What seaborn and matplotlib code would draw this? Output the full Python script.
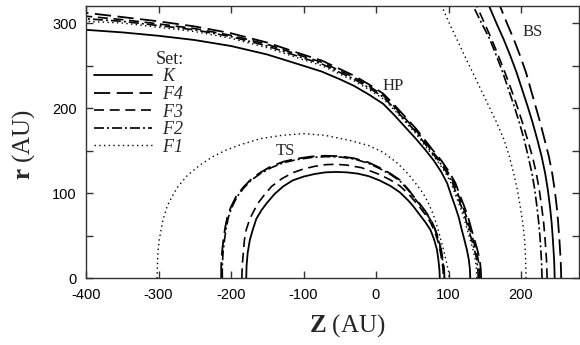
import matplotlib
matplotlib.use("Agg")
import matplotlib.pyplot as plt
import seaborn as sns
from matplotlib.lines import Line2D
from matplotlib.ticker import MultipleLocator

# ---------------- data ----------------
sets = ["K", "F4", "F3", "F2", "F1"]

# Termination shock (TS)
ts_K_z = [-179, -178.5, -177, -174, -170, -165, -158, -151, -140, -128, -115, -100,
          -85, -70, -55, -40, -25, -10, 5, 20, 33, 45, 52, 60, 68, 75, 80, 84, 86,
          87.5, 88]
ts_K_r = [0, 15, 30, 45, 57, 70, 80, 88, 99, 108, 115, 119.5, 122.5, 124.5, 125,
          124.5, 123, 120, 115, 108.5, 101, 91, 84, 75, 66, 57, 46, 34, 22, 10, 0]

ts_F3_z = [-185, -184.5, -183, -181.5, -179, -174, -168, -163, -154, -144, -130,
           -115, -100, -85, -70, -55, -40, -20, 5, 20, 33, 45, 52, 60, 68, 75, 81,
           86, 89, 91, 92.5, 93]
ts_F3_r = [0, 15, 30, 45, 57, 70, 80, 88, 98, 108, 117, 124, 128.5, 131.5, 133.5,
           134, 133, 130, 122, 115.5, 108.5, 99, 92, 84, 75, 66, 55, 42, 30, 20, 10, 0]

ts_F4_z = [-213.5, -213.5, -212.5, -210.5, -208, -205, -200, -193, -184, -174, -161,
           -146, -128, -110, -90, -70, -50, -30, -10, 5, 20, 33, 45, 52, 60, 68, 75,
           81, 86, 90, 92.5, 94, 94.5]
ts_F4_r = [0, 15, 30, 45, 60, 72, 84, 96, 106, 115, 123.5, 131, 137, 140.5, 143,
           144, 143.5, 141, 136, 130, 123, 115.5, 104, 96, 88, 79, 70, 59, 47, 33,
           20, 10, 0]

ts_F2_z = [-212, -212, -211, -209, -206.5, -203.5, -198.5, -191.5, -182.5, -172.5,
           -159.5, -144.5, -127, -109, -89, -69, -49, -29, -10, 5, 20, 33, 45, 52,
           60, 68, 75, 81, 86, 89.5, 92, 93.5, 94]
ts_F2_r = [0, 15, 30, 45, 60, 72, 84, 96, 106, 115, 123, 130, 136, 139.5, 142, 143,
           142.5, 140, 135, 129, 122, 114.5, 103, 95, 87, 78, 69, 58, 46, 32, 20, 10, 0]

ts_F1_z = [-302, -301.5, -301, -299, -294, -288, -280, -273, -260, -243, -225, -206,
           -185, -160, -130, -100, -70, -36, -10, 10, 30, 45, 56, 65, 72, 79, 84, 88,
           92, 95, 98, 100, 101]
ts_F1_r = [0, 15, 29, 45, 68, 85, 98, 108, 121, 133, 143, 151, 157.5, 164, 168, 170,
           168, 162, 156, 148, 135, 122, 110, 100, 89, 75, 62, 50, 37, 27, 16, 8, 0]

# Heliopause (HP)
hp_K_z = [130, 129.5, 128, 125.5, 122, 118, 114, 109, 104, 98, 90, 80, 68, 55, 40,
          25, 10, -10, -30, -50, -75, -101, -150, -200, -250, -300, -350, -400]
hp_K_r = [0, 11, 22, 33, 45, 58, 72, 85, 97, 112, 125, 138, 151, 164, 178, 192, 205,
          216, 226, 234, 243, 250, 263, 273, 280, 285, 289, 292]

hp_F4_z = [145, 144.5, 143, 140, 136, 131.5, 127, 121.5, 116, 109.5, 101, 90.5, 78,
           55, 40, 25, 10, -10, -30, -50, -75, -101, -150, -200, -250, -300, -350, -400]
hp_F4_r = [0, 11, 22, 33, 45, 58, 72, 85, 97, 112, 125, 138, 151, 176, 190, 204, 217,
           228, 238, 246, 256, 263, 277, 288, 296, 302, 307, 312]

hp_F3_z = [143, 142.5, 141, 138, 134, 129.5, 125, 119.5, 114, 107.5, 99, 88.5, 76,
           55, 40, 25, 10, -10, -30, -50, -75, -101, -150, -200, -250, -300, -350, -400]
hp_F3_r = [0, 11, 22, 33, 45, 58, 72, 85, 97, 112, 125, 138, 151, 174, 188, 202, 215,
           226, 236, 244, 254, 261, 275, 285.5, 293.5, 299, 304, 308]

hp_F2_z = [141, 140.5, 139, 136, 132, 127.5, 123, 117.5, 112, 105.5, 97, 86.5, 74,
           55, 40, 25, 10, -10, -30, -50, -75, -101, -150, -200, -250, -300, -350, -400]
hp_F2_r = [0, 11, 22, 33, 45, 58, 72, 85, 97, 112, 125, 138, 151, 172, 186, 200, 213,
           224, 234, 242, 252, 259, 273, 284, 292, 297, 302, 305]

hp_F1_z = [139, 138.5, 137, 134, 130, 125.5, 121, 115.5, 110, 103.5, 95, 84.5, 72,
           55, 40, 25, 10, -10, -30, -50, -75, -101, -150, -200, -250, -300, -350, -400]
hp_F1_r = [0, 11, 22, 33, 45, 58, 72, 85, 97, 112, 125, 138, 151, 170, 184, 198, 211,
           222, 232, 240, 250, 257, 271, 282, 290, 295, 300, 302]

# Bow shock (BS)
bs_r = [0, 20, 45, 65, 84, 104, 123, 143, 163, 183, 202.5, 222, 241.6, 261, 281, 300, 320]
bs_K_z = [246.5, 245.8, 244, 242.3, 240, 237, 233.4, 228.5, 222.5, 216, 209, 201.5,
          194, 185.5, 176, 166, 156]
bs_F4_z = [255.5, 254.8, 253, 251.3, 249.3, 246.5, 243.1, 238.5, 232.5, 226.5, 220,
           213.5, 207, 199, 190, 180.5, 171]
bs_F3_z = [236, 235.3, 233.3, 231.3, 228.5, 225.2, 221.2, 215.8, 209, 202, 194.5,
           186.5, 178, 169, 159.5, 149.5, 139]
bs_F2_z = [229, 228.3, 226.5, 224.5, 222, 219, 215.2, 210, 204.4, 197.7, 190.5, 182.7,
           175, 166.3, 157, 145.5, 134]
bs_F1_z = [207, 206.5, 205, 202.5, 199, 195, 190, 184, 176.5, 166.5, 155.5, 144.5,
           133.5, 122.5, 111.5, 101, 90.5]

# ---------------- styling ----------------
sns.set_theme(style="ticks")
plt.rcParams["font.family"] = ["Liberation Serif", "DejaVu Serif"]
plt.rcParams["mathtext.fontset"] = "custom"
plt.rcParams["mathtext.rm"] = "Liberation Serif"
plt.rcParams["mathtext.it"] = "Liberation Serif:italic"
plt.rcParams["mathtext.bf"] = "Liberation Serif:bold"
plt.rcParams["axes.unicode_minus"] = False

styles = {
    "K": dict(ls="-", lw=1.3),
    "F4": dict(ls=(0, (9.0, 3.6)), lw=1.3),
    "F3": dict(ls=(0, (6.0, 3.4)), lw=1.2),
    "F2": dict(ls=(0, (6.0, 1.8, 1.2, 1.8)), lw=1.2),
    "F1": dict(ls=(0, (1.0, 2.4)), lw=1.0),
}

curves = {
    "K": [(ts_K_z, ts_K_r), (hp_K_z, hp_K_r), (bs_K_z, bs_r)],
    "F4": [(ts_F4_z, ts_F4_r), (hp_F4_z, hp_F4_r), (bs_F4_z, bs_r)],
    "F3": [(ts_F3_z, ts_F3_r), (hp_F3_z, hp_F3_r), (bs_F3_z, bs_r)],
    "F2": [(ts_F2_z, ts_F2_r), (hp_F2_z, hp_F2_r), (bs_F2_z, bs_r)],
    "F1": [(ts_F1_z, ts_F1_r), (hp_F1_z, hp_F1_r), (bs_F1_z, bs_r)],
}

fig = plt.figure(figsize=(5.8, 3.45), dpi=100)
ax = fig.add_axes([86 / 580, (345 - 278.3) / 345, 493 / 580, 272.3 / 345])

for s in sets:
    for z, r in curves[s]:
        sns.lineplot(x=z, y=r, ax=ax, sort=False, estimator=None, color="black",
                     linestyle=styles[s]["ls"], linewidth=styles[s]["lw"])

ax.set_xlim(-400, 280)
ax.set_ylim(0, 320)

# labels inside
ax.text(-125, 150, "TS", fontsize=12, ha="center", va="center")
ax.text(23, 226, "HP", fontsize=12, ha="center", va="center")
ax.text(216, 290, "BS", fontsize=12, ha="center", va="center")

# legend
handles = [Line2D([0], [0], color="black", linestyle=styles[s]["ls"],
                  linewidth=styles[s]["lw"]) for s in sets]
labels = [f"${s[0]}$" + (s[1:] if len(s) > 1 else "") for s in sets]
leg = ax.legend(handles, labels, title="Set:", loc="upper left",
                bbox_to_anchor=(0.016, 0.835), frameon=False, fontsize=13,
                title_fontsize=13, handlelength=3.2, handletextpad=0.6,
                labelspacing=0.03, borderpad=0.0, borderaxespad=0.0,
                alignment="right")
for t in leg.get_texts():
    t.set_fontstyle("italic")

# ticks
ax.xaxis.set_major_locator(MultipleLocator(100))
ax.yaxis.set_major_locator(MultipleLocator(100))
ax.yaxis.set_minor_locator(MultipleLocator(50))
ax.tick_params(axis="both", which="both", direction="in", top=True, right=True,
               length=5, width=1.0, color="#333333",
               labelfontfamily="Liberation Sans", labelsize=10.5, labelcolor="black")
ax.tick_params(axis="x", pad=7)
ax.tick_params(axis="y", pad=6.5)
for sp in ax.spines.values():
    sp.set_linewidth(1.0)
    sp.set_color("#333333")
    sp.set_visible(True)

ax.set_xlabel(r"$\mathbf{Z}$ (AU)", fontsize=18)
ax.set_ylabel(r"$\mathbf{r}$ (AU)", fontsize=18)
ax.xaxis.set_label_coords(0.53, -0.125)
ax.yaxis.set_label_coords(-0.10, 0.49)

fig.savefig("out.png", dpi=100)
